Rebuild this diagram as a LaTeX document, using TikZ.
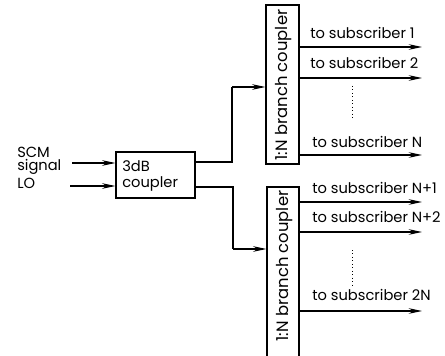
\documentclass[tikz,border=0pt]{standalone}
\usepackage{fontspec}
\setmainfont{Poppins}
\usetikzlibrary{arrows.meta}
\begin{document}
\begin{tikzpicture}[x=0.75pt,y=-0.75pt,
  box/.style={draw,line width=0.9pt,inner sep=0pt,minimum width=#1},
  lbl/.style={font=\fontsize{11}{12}\selectfont,inner sep=0pt},
  vlbl/.style={font=\fontsize{12.3}{13}\selectfont,inner sep=0pt,rotate=90},
  arr/.style={line width=0.8pt,-{Stealth[length=10pt,width=4.2pt]}},
  wire/.style={line width=0.8pt}]
\useasboundingbox (0,0) rectangle (445,356);
\clip (0,0) rectangle (445,356);
% 3dB coupler
\node[box=79*0.75pt, minimum height=46*0.75pt] (c3) at (155.5,175) {};
\node[lbl, anchor=base west] (c3a) at (122,171) {3dB};
\node[lbl, anchor=base west] (c3b) at (122,187) {coupler};
% branch couplers
\node[box=33*0.75pt, minimum height=159*0.75pt] (bu) at (282.5,84.5) {};
\node[vlbl] (but) at (284,85) {1:N branch coupler};
\node[box=32*0.75pt, minimum height=175*0.75pt] (bl) at (283,274.5) {};
\node[vlbl] (blt) at (285,266) {1:N branch coupler};
% inputs
\node[lbl, anchor=base west] (scm) at (17,157) {SCM};
\node[lbl, anchor=base west] (sig) at (17,170) {signal};
\node[lbl, anchor=base west] (lo) at (17,188) {LO};
\coordinate (s1) at (72,163);
\coordinate (s2) at (70,186);
\draw[arr] (s1) -- (c3.west |- s1);
\draw[arr] (s2) -- (c3.west |- s2);
% 3dB -> branch couplers
\coordinate (ju) at (232,87);
\coordinate (jl) at (233,249);
\draw[wire] (c3.east |- 0,162) -| (ju);
\draw[arr] (ju) -- (bu.west |- ju);
\draw[wire] (c3.east |- 0,187) -| (jl);
\draw[arr] (jl) -- (bl.west |- jl);
% upper outputs
\foreach \y/\n in {47/u1, 78/u2, 155/u3}{
  \coordinate (e\n) at (422,\y);
  \draw[arr] (bu.east |- e\n) -- (e\n);
}
\node[lbl, anchor=base west] (tu1) at (310,39) {to subscriber 1};
\node[lbl, anchor=base west] (tu2) at (310,69) {to subscriber 2};
\node[lbl, anchor=base west] (tu3) at (312,147) {to subscriber N};
\draw[dotted, line width=0.6pt] (352,86) -- (352,118);
% lower outputs
\foreach \y/\n in {202/l1, 232/l2, 311/l3}{
  \coordinate (e\n) at (422,\y);
  \draw[arr] (bl.east |- e\n) -- (e\n);
}
\node[lbl, anchor=base west] (tl1) at (312,193) {to subscriber N+1};
\node[lbl, anchor=base west] (tl2) at (312,222) {to subscriber N+2};
\node[lbl, anchor=base west] (tl3) at (312,300) {to subscriber 2N};
\draw[dotted, line width=0.6pt] (352,250) -- (352,285);
\end{tikzpicture}
\end{document}
